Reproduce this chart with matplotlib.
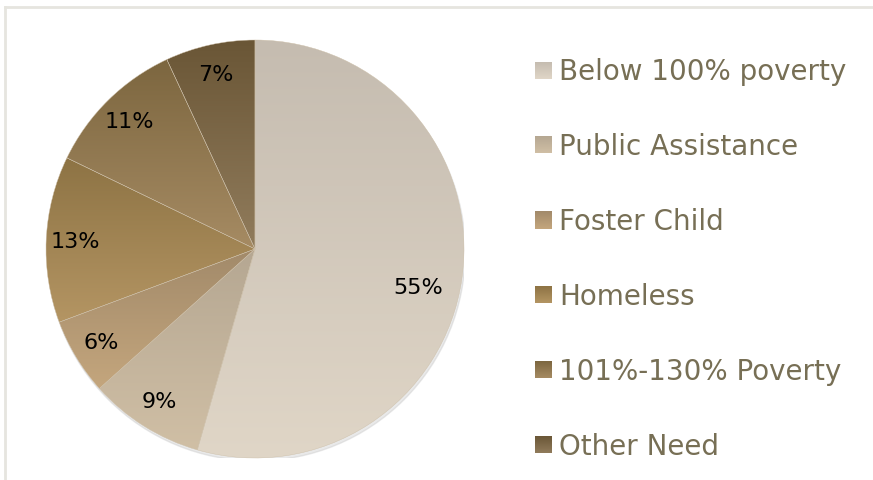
import numpy as np
import matplotlib
matplotlib.use("Agg")
import matplotlib.pyplot as plt
from matplotlib.colors import LinearSegmentedColormap
from matplotlib.patches import Circle
from matplotlib.lines import Line2D

# data
categories = ["Below 100% poverty", "Public Assistance", "Foster Child",
              "Homeless", "101%-130% Poverty", "Other Need"]
shares = [55, 9, 6, 13, 11, 7]
pct_labels = ["55%", "9%", "6%", "13%", "11%", "7%"]
# (top colour, bottom colour) of each slice gradient
top_colors = ["#c5bcb0", "#b5a792", "#a28a6a", "#8d7344", "#7c663f", "#6a5636"]
bottom_colors = ["#e0d6c7", "#d0bfa5", "#c4a67d", "#b49563", "#a68b63", "#917c5c"]

W, H = 873, 481
fig = plt.figure(figsize=(W / 100, H / 100), dpi=100)
fig.patch.set_facecolor("white")

# frame: top and left edges only
fig.add_artist(Line2D([5 / W, 1], [1 - 8 / H, 1 - 8 / H], color="#e6e5df", lw=2))
fig.add_artist(Line2D([5 / W, 5 / W], [0, 1 - 8 / H], color="#e6e5df", lw=2))

cx, cy, r = 255, 250, 209
ax = fig.add_axes([(cx - r) / W, (H - cy - r) / H, 2 * r / W, 2 * r / H])
ax.axis("off")

shadow = Circle((0.006, -0.014), 1.0, color="#c8c8c8", alpha=0.4, zorder=0)
ax.add_patch(shadow)

wedges, texts = ax.pie(shares, startangle=90, counterclock=False,
                       labels=pct_labels, labeldistance=0.86,
                       wedgeprops=dict(facecolor="none", edgecolor="#cdbfa8",
                                       linewidth=0.3),
                       textprops=dict(fontsize=16, color="black",
                                      family="DejaVu Sans"))
for t in texts:
    t.set_horizontalalignment("center")
    t.set_verticalalignment("center")

# the big slice label sits a little lower, as in the original (best fit)
w0 = wedges[0]
ang = np.deg2rad((w0.theta1 + w0.theta2) / 2 - 5)
texts[0].set_position((0.80 * np.cos(ang), 0.80 * np.sin(ang)))

grad = np.linspace(0, 1, 256).reshape(-1, 1)
for w, ct, cb in zip(wedges, top_colors, bottom_colors):
    v = w.get_path().vertices
    cmap = LinearSegmentedColormap.from_list("g", [cb, ct])
    im = ax.imshow(grad, cmap=cmap, origin="lower", aspect="auto",
                   extent=[v[:, 0].min(), v[:, 0].max(), v[:, 1].min(), v[:, 1].max()],
                   zorder=1, interpolation="bilinear")
    im.set_clip_path(w)
    w.set_zorder(2)
for t in texts:
    t.set_zorder(3)

ax.set_xlim(-1.0, 1.0)
ax.set_ylim(-1.0, 1.0)
ax.set_aspect("equal")

# legend drawn by hand so the swatches can carry the gradient
lx0 = 535
row0, step = 71, 75.0
sw = 17
lax = fig.add_axes([0, 0, 1, 1])
lax.set_xlim(0, W)
lax.set_ylim(H, 0)
lax.axis("off")
for i, (name, ct, cb) in enumerate(zip(categories, top_colors, bottom_colors)):
    yc = row0 + i * step
    cmap = LinearSegmentedColormap.from_list("g", [ct, cb])
    lax.imshow(grad, cmap=cmap, origin="upper", aspect="auto",
               extent=[lx0, lx0 + sw, yc + sw / 2, yc - sw / 2],
               interpolation="bilinear")
    lax.text(lx0 + sw + 7, yc + 1, name, fontsize=20, color="#776f55",
             va="center", ha="left", family="DejaVu Sans")
lax.set_xlim(0, W)
lax.set_ylim(H, 0)

fig.savefig("out.png", dpi=100, facecolor="white")
